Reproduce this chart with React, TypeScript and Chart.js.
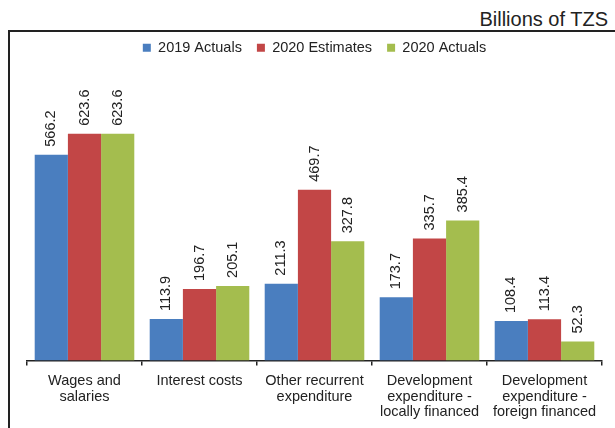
import React, { useEffect, useRef } from 'react';
import { Chart, registerables } from 'chart.js';

Chart.register(...registerables);

const categories: string[][] = [
  ['Wages and', 'salaries'],
  ['Interest costs'],
  ['Other recurrent', 'expenditure'],
  ['Development', 'expenditure -', 'locally financed'],
  ['Development', 'expenditure -', 'foreign financed'],
];

const actuals2019: number[] = [566.2, 113.9, 211.3, 173.7, 108.4];
const estimates2020: number[] = [623.6, 196.7, 469.7, 335.7, 113.4];
const actuals2020: number[] = [623.6, 205.1, 327.8, 385.4, 52.3];

const seriesNames: string[] = ['2019 Actuals', '2020 Estimates', '2020 Actuals'];
const seriesColors: string[] = ['#4A7EBF', '#C24646', '#A4BD4E'];

const FONT = "'Liberation Sans', Arial, sans-serif";

// draws the rotated value above each bar
const barValues = {
  id: 'barValues',
  afterDatasetsDraw(chart: Chart) {
    const { ctx } = chart;
    ctx.save();
    ctx.fillStyle = '#222';
    ctx.font = `14.5px ${FONT}`;
    ctx.textAlign = 'left';
    ctx.textBaseline = 'middle';
    chart.data.datasets.forEach((ds, i) => {
      const meta = chart.getDatasetMeta(i);
      meta.data.forEach((bar: any, j: number) => {
        const v = ds.data[j] as number;
        ctx.save();
        ctx.translate(bar.x, bar.y - 8);
        ctx.rotate(-Math.PI / 2);
        ctx.fillText(v.toFixed(1), 0, 0);
        ctx.restore();
      });
    });
    ctx.restore();
  },
};

const SpendingChart: React.FC = () => {
  const canvasRef = useRef<HTMLCanvasElement | null>(null);
  const chartRef = useRef<Chart | null>(null);

  useEffect(() => {
    document.body.style.margin = '0';
    if (!canvasRef.current) return;
    if (chartRef.current) chartRef.current.destroy();

    const values = [actuals2019, estimates2020, actuals2020];

    chartRef.current = new Chart(canvasRef.current, {
      type: 'bar',
      data: {
        labels: categories,
        datasets: values.map((d, i) => ({
          label: seriesNames[i],
          data: d,
          backgroundColor: seriesColors[i],
          borderWidth: 0,
          barPercentage: 1,
          categoryPercentage: 0.866,
        })),
      },
      plugins: [barValues],
      options: {
        responsive: false,
        animation: false,
        layout: { padding: { left: 27, right: 13, top: 25.5, bottom: 0 } },
        plugins: {
          legend: {
            display: true,
            position: 'top',
            labels: {
              boxWidth: 8,
              boxHeight: 8,
              padding: 15,
              color: '#222',
              font: { family: FONT, size: 14.5 },
            },
          },
          tooltip: { enabled: false },
        },
        scales: {
          x: {
            grid: {
              offset: true,
              drawOnChartArea: false,
              drawTicks: true,
              tickLength: 5,
              color: '#222',
              lineWidth: 1.5,
            },
            border: { display: true, color: '#222', width: 1.5 },
            ticks: {
              color: '#222',
              padding: 8,
              maxRotation: 0,
              autoSkip: false,
              font: { family: FONT, size: 14.5, lineHeight: 1.07 },
            },
          },
          y: {
            display: false,
            min: 0,
            max: 813,
          },
        },
      },
    });

    return () => {
      if (chartRef.current) {
        chartRef.current.destroy();
        chartRef.current = null;
      }
    };
  }, []);

  return <canvas ref={canvasRef} width={615} height={428} style={{ position: 'absolute', left: 0, top: 0 }} />;
};

export default function App() {
  return (
    <div
      style={{
        position: 'relative',
        width: 615,
        height: 428,
        overflow: 'hidden',
        background: '#fff',
        fontFamily: FONT,
      }}
    >
      <div
        style={{
          position: 'absolute',
          right: 7,
          top: 9,
          fontSize: 20,
          lineHeight: 1,
          color: '#222',
        }}
      >
        Billions of TZS
      </div>
      <div
        style={{
          position: 'absolute',
          left: 8,
          top: 30,
          width: 700,
          height: 500,
          borderTop: '2px solid #222',
          borderLeft: '2px solid #222',
        }}
      />
      <SpendingChart />
    </div>
  );
}
